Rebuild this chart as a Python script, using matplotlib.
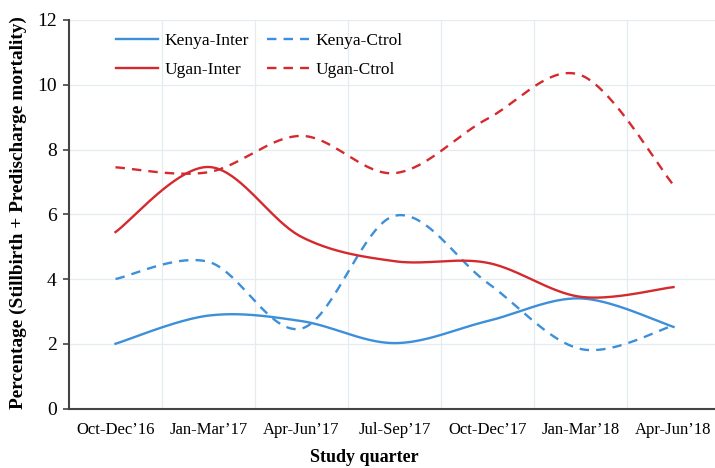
import matplotlib
matplotlib.use("Agg")
import matplotlib.pyplot as plt
import numpy as np

quarters = ["Oct-Dec\u201916", "Jan-Mar\u201917", "Apr-Jun\u201917", "Jul-Sep\u201917",
            "Oct-Dec\u201917", "Jan-Mar\u201918", "Apr-Jun\u201918"]
kenya_inter = [2.0, 2.87, 2.7, 2.02, 2.7, 3.4, 2.52]
kenya_ctrol = [4.0, 4.53, 2.47, 5.95, 3.88, 1.84, 2.56]
ugan_inter = [5.45, 7.46, 5.3, 4.55, 4.5, 3.45, 3.75]
ugan_ctrol = [7.45, 7.3, 8.42, 7.27, 8.95, 10.3, 6.9]

BLUE = "#3C8FD9"
RED = "#D42A2E"


def smooth(y, n=40):
    # Excel-like smoothing: Catmull-Rom bezier through each point
    x = np.arange(len(y), dtype=float)
    y = np.asarray(y, dtype=float)
    pts = np.column_stack([x, y])
    out = []
    for i in range(len(pts) - 1):
        p0 = pts[i - 1] if i > 0 else pts[i]
        p1 = pts[i]
        p2 = pts[i + 1]
        p3 = pts[i + 2] if i + 2 < len(pts) else pts[i + 1]
        c1 = p1 + (p2 - p0) / 6.0
        c2 = p2 - (p3 - p1) / 6.0
        t = np.linspace(0, 1, n)[:, None]
        seg = ((1 - t) ** 3) * p1 + 3 * ((1 - t) ** 2) * t * c1 + 3 * (1 - t) * t ** 2 * c2 + t ** 3 * p2
        out.append(seg if i == 0 else seg[1:])
    seg = np.vstack(out)
    return seg[:, 0], seg[:, 1]


plt.rcParams["font.family"] = ["Liberation Serif", "DejaVu Serif"]

fig = plt.figure(figsize=(7.15, 4.68), dpi=100)
W, H = 715, 468
ax = fig.add_axes([69 / W, (H - 408.5) / H, 651 / W, (408.5 - 20) / H])

series = [
    (kenya_inter, BLUE, "-", "Kenya-Inter"),
    (kenya_ctrol, BLUE, (0, (4, 3)), "Kenya-Ctrol"),
    (ugan_inter, RED, "-", "Ugan-Inter"),
    (ugan_ctrol, RED, (0, (4, 3)), "Ugan-Ctrol"),
]
handles = {}
for vals, col, ls, lab in series:
    sx, sy = smooth(vals)
    ln, = ax.plot(sx, sy, color=col, linestyle=ls, linewidth=1.7, label=lab)
    handles[lab] = ln

ax.set_xlim(-0.5, len(quarters) - 0.5)
ax.set_ylim(0, 12)
ax.set_yticks(range(0, 13, 2))
ax.set_xticks(range(len(quarters)))
ax.set_xticklabels(quarters)
ax.set_xticks(np.arange(0.5, len(quarters) - 0.5, 1.0), minor=True)
ax.tick_params(axis="x", which="both", length=0, pad=10, labelsize=12)
ax.tick_params(axis="y", length=4, width=1.2, color="#444444", pad=5, labelsize=14)
ax.grid(False)
ax.grid(True, which="minor", axis="x", color="#E4ECF0", linewidth=0.9)
ax.grid(True, which="major", axis="y", color="#E4ECF0", linewidth=0.9)
ax.set_axisbelow(True)

for s in ("top", "right"):
    ax.spines[s].set_visible(False)
for s in ("left", "bottom"):
    ax.spines[s].set_color("#444444")
    ax.spines[s].set_linewidth(1.5)

order = ["Kenya-Inter", "Ugan-Inter", "Kenya-Ctrol", "Ugan-Ctrol"]
ax.legend([handles[k] for k in order], order, ncol=2, frameon=False,
          loc="upper left", bbox_to_anchor=(31 / 651, 1 + 3 / 388.5),
          fontsize=12.5, handlelength=2.45, handletextpad=0.35,
          columnspacing=1.05, labelspacing=0.75)

fig.text(364 / W, 1 - 458 / H, "Study quarter", ha="center", va="center",
         fontsize=13, fontweight="bold")
fig.text(18 / W, 1 - 213 / H, "Percentage (Stillbirth + Predischarge mortality)",
         ha="center", va="center", rotation=90, fontsize=13.9, fontweight="bold")

fig.savefig("out.png", dpi=100)
